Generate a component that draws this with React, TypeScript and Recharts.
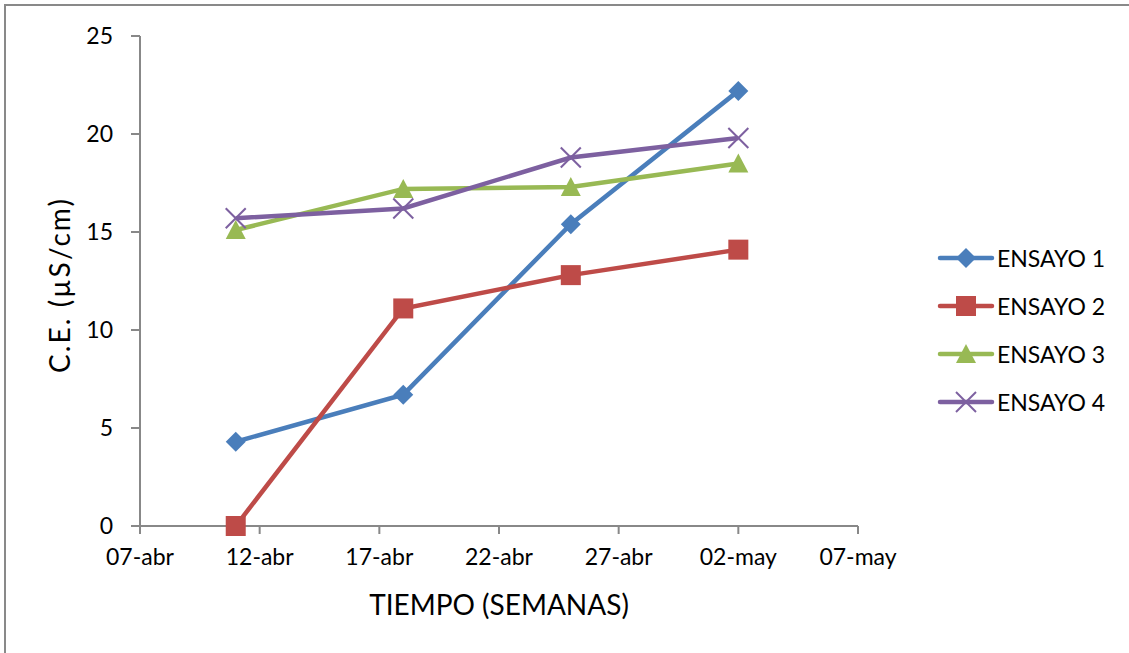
import React from "react";
import { LineChart, Line, XAxis, YAxis, Legend, Label } from "recharts";

// Day of April for each sampling date (02-may = day 32)
const fechas = ["11-abr", "18-abr", "25-abr", "02-may"];
const dias = [11, 18, 25, 32];
const ensayo1 = [4.3, 6.7, 15.4, 22.2];
const ensayo2 = [0, 11.1, 12.8, 14.1];
const ensayo3 = [15.1, 17.2, 17.3, 18.5];
const ensayo4 = [15.7, 16.2, 18.8, 19.8];

const xTicks = [7, 12, 17, 22, 27, 32, 37];
const xTickLabels = ["07-abr", "12-abr", "17-abr", "22-abr", "27-abr", "02-may", "07-may"];
const yTicks = [0, 5, 10, 15, 20, 25];

const seriesNames = ["ENSAYO 1", "ENSAYO 2", "ENSAYO 3", "ENSAYO 4"];
const colors = ["#4A7EBB", "#BE4B48", "#98B954", "#7D60A0"];

const data = fechas.map((f, i) => ({
  fecha: f,
  dia: dias[i],
  e1: ensayo1[i],
  e2: ensayo2[i],
  e3: ensayo3[i],
  e4: ensayo4[i],
}));

const FONT = "Lato, 'Open Sans', sans-serif";

function Marker({ kind, cx, cy, color }: { kind: number; cx: number; cy: number; color: string }) {
  const s = 10;
  if (kind === 0)
    return <polygon points={`${cx},${cy - s} ${cx + s},${cy} ${cx},${cy + s} ${cx - s},${cy}`} fill={color} />;
  if (kind === 1) return <rect x={cx - s} y={cy - s} width={2 * s} height={2 * s} fill={color} />;
  if (kind === 2)
    return <polygon points={`${cx},${cy - s} ${cx + s},${cy + 9} ${cx - s},${cy + 9}`} fill={color} />;
  return (
    <g stroke={color} strokeWidth={2}>
      <line x1={cx - s} y1={cy - s} x2={cx + s} y2={cy + s} />
      <line x1={cx - s} y1={cy + s} x2={cx + s} y2={cy - s} />
    </g>
  );
}

const makeDot = (kind: number) => (props: any) => {
  const { cx, cy, index } = props;
  if (cx == null || cy == null) return <g key={`d${kind}-${index}`} />;
  return (
    <g key={`d${kind}-${index}`}>
      <Marker kind={kind} cx={cx} cy={cy} color={colors[kind]} />
    </g>
  );
};

const LegendContent = () => (
  <div style={{ fontFamily: FONT, fontSize: 23, color: "#000" }}>
    {seriesNames.map((n, i) => (
      <div key={n} style={{ display: "flex", alignItems: "center", height: 48 }}>
        <svg width={58} height={24} style={{ display: "block" }}>
          <line x1={3} y1={12} x2={55} y2={12} stroke={colors[i]} strokeWidth={4.5} strokeLinecap="round" />
          <Marker kind={i} cx={29} cy={12} color={colors[i]} />
        </svg>
        <span style={{ marginLeft: 2 }}>{n}</span>
      </div>
    ))}
  </div>
);

const YTitle = () => (
  <text
    x={59}
    y={286}
    transform="rotate(-90 59 286)"
    textAnchor="middle"
    dominantBaseline="central"
    textLength={174}
    lengthAdjust="spacing"
    fill="#000"
    fontSize={28}
    fontFamily={FONT}
  >
    C.E. (µS/cm)
  </text>
);

export default function App() {
  return (
    <div
      style={{
        position: "absolute",
        left: 0,
        top: 0,
        width: 1129,
        height: 653,
        overflow: "hidden",
        background: "#fff",
      }}
    >
      <div
        style={{
          position: "absolute",
          left: 4,
          top: 4,
          width: 1200,
          height: 700,
          border: "2px solid #898989",
          boxSizing: "border-box",
        }}
      />
      <div style={{ position: "absolute", left: 0, top: 0 }}>
        <LineChart width={1129} height={653} data={data} margin={{ top: 36, right: 271, bottom: 0, left: 0 }}>
          <XAxis
            dataKey="dia"
            type="number"
            domain={[7, 37]}
            ticks={xTicks}
            tickFormatter={(v: number) => xTickLabels[xTicks.indexOf(v)]}
            height={127}
            tickSize={8}
            tickMargin={15}
            axisLine={{ stroke: "#888", strokeWidth: 2 }}
            tickLine={{ stroke: "#888", strokeWidth: 2 }}
            tick={{ fill: "#000", fontSize: 23, fontFamily: FONT }}
            interval={0}
            label={{
              value: "TIEMPO (SEMANAS)",
              position: "insideBottom",
              offset: 38,
              style: { fill: "#000", fontSize: 28, fontFamily: FONT },
            }}
          />
          <YAxis
            type="number"
            domain={[0, 25]}
            ticks={yTicks}
            width={140}
            tickSize={9}
            tickMargin={18}
            axisLine={{ stroke: "#888", strokeWidth: 2 }}
            tickLine={{ stroke: "#888", strokeWidth: 2 }}
            tick={{ fill: "#000", fontSize: 23, fontFamily: FONT }}
            interval={0}
            label={<Label content={<YTitle />} />}
          />
          <Legend
            layout="vertical"
            align="center"
            verticalAlign="middle"
            content={<LegendContent />}
            wrapperStyle={{ position: "absolute", left: 937, top: 234, width: 190 }}
          />
          {["e1", "e2", "e3", "e4"].map((k, i) => (
            <Line
              key={k}
              dataKey={k}
              name={seriesNames[i]}
              stroke={colors[i]}
              strokeWidth={4.5}
              dot={makeDot(i)}
              activeDot={false}
              isAnimationActive={false}
            />
          ))}
        </LineChart>
      </div>
    </div>
  );
}
